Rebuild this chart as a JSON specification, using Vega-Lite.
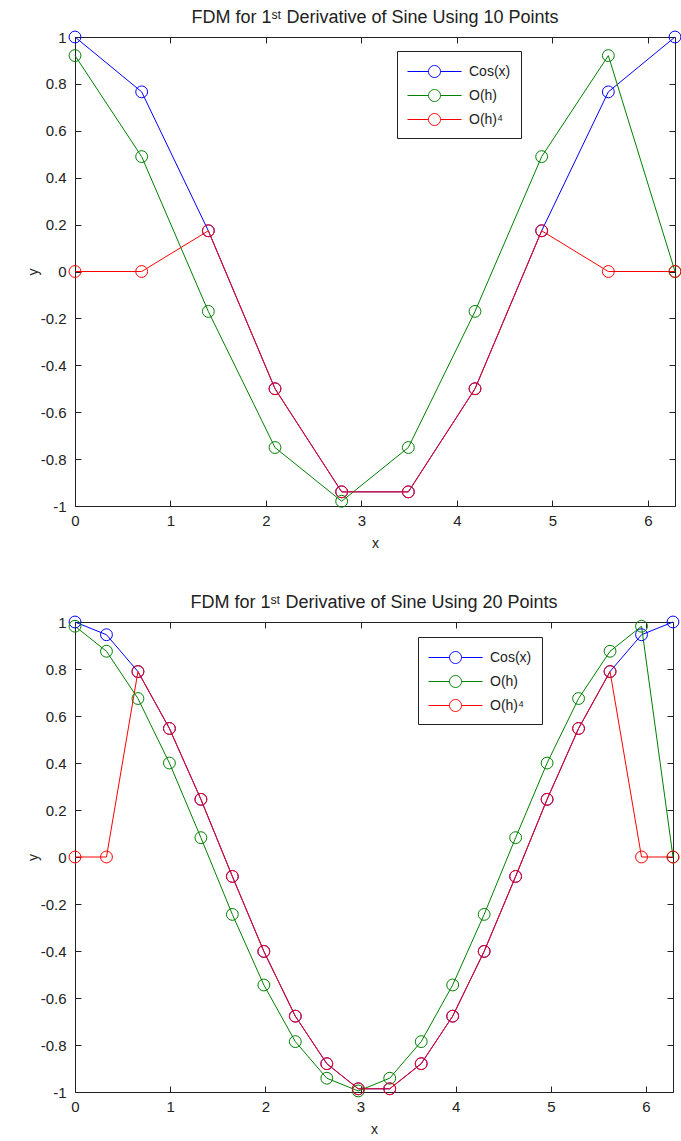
{
  "$schema": "https://vega.github.io/schema/vega-lite/v6.json",
  "background": "white",
  "padding": {"left": 26, "top": 9, "right": 6, "bottom": 3},
  "spacing": 44,
  "config": {
    "font": "Liberation Sans",
    "view": {"stroke": null},
    "axis": {"grid": false, "labelFont": "Liberation Sans", "labelFontSize": 15, "labelColor": "#222", "labelFlush": false, "tickColor": "#222", "domainColor": "#222", "tickSize": -6, "titleFont": "Liberation Sans", "titleFontSize": 14, "titleFontWeight": "normal", "titleColor": "#222"},
    "title": {"font": "Liberation Sans", "fontSize": 18, "fontWeight": "normal", "color": "#222", "offset": 2},
    "legend": {"labelFont": "Liberation Sans", "labelFontSize": 14, "labelColor": "#222"}
  },
  "datasets": {
    "p10": [
      {"x": 0, "y": 1, "s": "Cos(x)"},
      {"x": 0.6981, "y": 0.766, "s": "Cos(x)"},
      {"x": 1.3963, "y": 0.1736, "s": "Cos(x)"},
      {"x": 2.0944, "y": -0.5, "s": "Cos(x)"},
      {"x": 2.7925, "y": -0.9397, "s": "Cos(x)"},
      {"x": 3.4907, "y": -0.9397, "s": "Cos(x)"},
      {"x": 4.1888, "y": -0.5, "s": "Cos(x)"},
      {"x": 4.8869, "y": 0.1736, "s": "Cos(x)"},
      {"x": 5.5851, "y": 0.766, "s": "Cos(x)"},
      {"x": 6.2832, "y": 1, "s": "Cos(x)"},
      {"x": 0, "y": 0.9207, "s": "O(h)"},
      {"x": 0.6981, "y": 0.4899, "s": "O(h)"},
      {"x": 1.3963, "y": -0.1702, "s": "O(h)"},
      {"x": 2.0944, "y": -0.7506, "s": "O(h)"},
      {"x": 2.7925, "y": -0.9798, "s": "O(h)"},
      {"x": 3.4907, "y": -0.7506, "s": "O(h)"},
      {"x": 4.1888, "y": -0.1702, "s": "O(h)"},
      {"x": 4.8869, "y": 0.4899, "s": "O(h)"},
      {"x": 5.5851, "y": 0.9207, "s": "O(h)"},
      {"x": 6.2832, "y": 0, "s": "O(h)"},
      {"x": 0, "y": 0, "s": "O(h)⁴"},
      {"x": 0.6981, "y": 0, "s": "O(h)⁴"},
      {"x": 1.3963, "y": 0.1736, "s": "O(h)⁴"},
      {"x": 2.0944, "y": -0.5, "s": "O(h)⁴"},
      {"x": 2.7925, "y": -0.9397, "s": "O(h)⁴"},
      {"x": 3.4907, "y": -0.9397, "s": "O(h)⁴"},
      {"x": 4.1888, "y": -0.5, "s": "O(h)⁴"},
      {"x": 4.8869, "y": 0.1736, "s": "O(h)⁴"},
      {"x": 5.5851, "y": 0, "s": "O(h)⁴"},
      {"x": 6.2832, "y": 0, "s": "O(h)⁴"}
    ],
    "p20": [
      {"x": 0, "y": 1, "s": "Cos(x)"},
      {"x": 0.3307, "y": 0.9458, "s": "Cos(x)"},
      {"x": 0.6614, "y": 0.7891, "s": "Cos(x)"},
      {"x": 0.9921, "y": 0.5469, "s": "Cos(x)"},
      {"x": 1.3228, "y": 0.2455, "s": "Cos(x)"},
      {"x": 1.6535, "y": -0.0826, "s": "Cos(x)"},
      {"x": 1.9842, "y": -0.4017, "s": "Cos(x)"},
      {"x": 2.3149, "y": -0.6773, "s": "Cos(x)"},
      {"x": 2.6456, "y": -0.8795, "s": "Cos(x)"},
      {"x": 2.9762, "y": -0.9864, "s": "Cos(x)"},
      {"x": 3.3069, "y": -0.9864, "s": "Cos(x)"},
      {"x": 3.6376, "y": -0.8795, "s": "Cos(x)"},
      {"x": 3.9683, "y": -0.6773, "s": "Cos(x)"},
      {"x": 4.299, "y": -0.4017, "s": "Cos(x)"},
      {"x": 4.6297, "y": -0.0826, "s": "Cos(x)"},
      {"x": 4.9604, "y": 0.2455, "s": "Cos(x)"},
      {"x": 5.2911, "y": 0.5469, "s": "Cos(x)"},
      {"x": 5.6218, "y": 0.7891, "s": "Cos(x)"},
      {"x": 5.9525, "y": 0.9458, "s": "Cos(x)"},
      {"x": 6.2832, "y": 1, "s": "Cos(x)"},
      {"x": 0, "y": 0.9819, "s": "O(h)"},
      {"x": 0.3307, "y": 0.8755, "s": "O(h)"},
      {"x": 0.6614, "y": 0.6744, "s": "O(h)"},
      {"x": 0.9921, "y": 0.3998, "s": "O(h)"},
      {"x": 1.3228, "y": 0.0823, "s": "O(h)"},
      {"x": 1.6535, "y": -0.2443, "s": "O(h)"},
      {"x": 1.9842, "y": -0.5446, "s": "O(h)"},
      {"x": 2.3149, "y": -0.7856, "s": "O(h)"},
      {"x": 2.6456, "y": -0.9413, "s": "O(h)"},
      {"x": 2.9762, "y": -0.9955, "s": "O(h)"},
      {"x": 3.3069, "y": -0.9413, "s": "O(h)"},
      {"x": 3.6376, "y": -0.7856, "s": "O(h)"},
      {"x": 3.9683, "y": -0.5446, "s": "O(h)"},
      {"x": 4.299, "y": -0.2443, "s": "O(h)"},
      {"x": 4.6297, "y": 0.0823, "s": "O(h)"},
      {"x": 4.9604, "y": 0.3998, "s": "O(h)"},
      {"x": 5.2911, "y": 0.6744, "s": "O(h)"},
      {"x": 5.6218, "y": 0.8755, "s": "O(h)"},
      {"x": 5.9525, "y": 0.9819, "s": "O(h)"},
      {"x": 6.2832, "y": 0, "s": "O(h)"},
      {"x": 0, "y": 0, "s": "O(h)⁴"},
      {"x": 0.3307, "y": 0, "s": "O(h)⁴"},
      {"x": 0.6614, "y": 0.7891, "s": "O(h)⁴"},
      {"x": 0.9921, "y": 0.5469, "s": "O(h)⁴"},
      {"x": 1.3228, "y": 0.2455, "s": "O(h)⁴"},
      {"x": 1.6535, "y": -0.0826, "s": "O(h)⁴"},
      {"x": 1.9842, "y": -0.4017, "s": "O(h)⁴"},
      {"x": 2.3149, "y": -0.6773, "s": "O(h)⁴"},
      {"x": 2.6456, "y": -0.8795, "s": "O(h)⁴"},
      {"x": 2.9762, "y": -0.9864, "s": "O(h)⁴"},
      {"x": 3.3069, "y": -0.9864, "s": "O(h)⁴"},
      {"x": 3.6376, "y": -0.8795, "s": "O(h)⁴"},
      {"x": 3.9683, "y": -0.6773, "s": "O(h)⁴"},
      {"x": 4.299, "y": -0.4017, "s": "O(h)⁴"},
      {"x": 4.6297, "y": -0.0826, "s": "O(h)⁴"},
      {"x": 4.9604, "y": 0.2455, "s": "O(h)⁴"},
      {"x": 5.2911, "y": 0.5469, "s": "O(h)⁴"},
      {"x": 5.6218, "y": 0.7891, "s": "O(h)⁴"},
      {"x": 5.9525, "y": 0, "s": "O(h)⁴"},
      {"x": 6.2832, "y": 0, "s": "O(h)⁴"}
    ]
  },
  "resolve": {"scale": {"color": "independent"}},
  "vconcat": [
    {
      "title": "FDM for 1ˢᵗ Derivative of Sine Using 10 Points",
      "width": 600,
      "height": 469,
      "data": {"name": "p10"},
      "resolve": {"axis": {"x": "independent", "y": "independent"}},
      "layer": [
        {
          "mark": {"type": "line", "strokeWidth": 1},
          "encoding": {
            "x": {"field": "x", "type": "quantitative", "scale": {"domain": [0, 6.2832], "nice": false, "zero": false}, "axis": {"values": [0, 1, 2, 3, 4, 5, 6], "title": "x", "labelPadding": 13, "titlePadding": 8}},
            "y": {"field": "y", "type": "quantitative", "scale": {"domain": [-1, 1], "nice": false}, "axis": {"values": [-1, -0.8, -0.6, -0.4, -0.2, 0, 0.2, 0.4, 0.6, 0.8, 1], "labelExpr": "replace(format(datum.value, '.1~f'), '−', '-')", "title": "y", "labelPadding": 15, "titlePadding": 0}},
            "color": {"field": "s", "type": "nominal", "scale": {"domain": ["Cos(x)", "O(h)", "O(h)⁴"], "range": ["#0000ff", "#008000", "#ff0000"]},
              "legend": {"title": null, "orient": "none", "legendX": 322, "legendY": 14, "strokeColor": "#222", "fillColor": "white", "padding": 10, "symbolType": "M-1,0L1.1,0M2.3,0L4.4,0M1.1,0A0.6,0.6,0,1,0,2.3,0A0.6,0.6,0,1,0,1.1,0", "symbolSize": 400, "symbolStrokeWidth": 1, "symbolFillColor": "transparent", "labelOffset": 41, "rowPadding": 5, "labelFontSize": 14,
                "encode": {"symbols": {"update": {"stroke": {"signal": "datum.value === 'Cos(x)' ? '#0000ff' : datum.value === 'O(h)' ? '#008000' : '#ff0000'"}, "fill": {"value": "transparent"}}}}}}
          }
        },
        {
          "mark": {"type": "point", "filled": false, "size": 140, "strokeWidth": 1, "opacity": 1},
          "encoding": {
            "x": {"field": "x", "type": "quantitative", "axis": {"orient": "top", "values": [0, 1, 2, 3, 4, 5, 6], "labels": false, "title": null}},
            "y": {"field": "y", "type": "quantitative", "axis": {"orient": "right", "values": [-1, -0.8, -0.6, -0.4, -0.2, 0, 0.2, 0.4, 0.6, 0.8, 1], "labels": false, "title": null}},
            "color": {"field": "s", "type": "nominal"}
          }
        }
      ]
    },
    {
      "title": "FDM for 1ˢᵗ Derivative of Sine Using 20 Points",
      "width": 598,
      "height": 470,
      "data": {"name": "p20"},
      "resolve": {"axis": {"x": "independent", "y": "independent"}},
      "layer": [
        {
          "mark": {"type": "line", "strokeWidth": 1},
          "encoding": {
            "x": {"field": "x", "type": "quantitative", "scale": {"domain": [0, 6.2832], "nice": false, "zero": false}, "axis": {"values": [0, 1, 2, 3, 4, 5, 6], "title": "x", "labelPadding": 13, "titlePadding": 8}},
            "y": {"field": "y", "type": "quantitative", "scale": {"domain": [-1, 1], "nice": false}, "axis": {"values": [-1, -0.8, -0.6, -0.4, -0.2, 0, 0.2, 0.4, 0.6, 0.8, 1], "labelExpr": "replace(format(datum.value, '.1~f'), '−', '-')", "title": "y", "labelPadding": 15, "titlePadding": 0}},
            "color": {"field": "s", "type": "nominal", "scale": {"domain": ["Cos(x)", "O(h)", "O(h)⁴"], "range": ["#0000ff", "#008000", "#ff0000"]},
              "legend": {"title": null, "orient": "none", "legendX": 343, "legendY": 15, "strokeColor": "#222", "fillColor": "white", "padding": 10, "symbolType": "M-1,0L1.1,0M2.3,0L4.4,0M1.1,0A0.6,0.6,0,1,0,2.3,0A0.6,0.6,0,1,0,1.1,0", "symbolSize": 400, "symbolStrokeWidth": 1, "symbolFillColor": "transparent", "labelOffset": 41, "rowPadding": 5, "labelFontSize": 14,
                "encode": {"symbols": {"update": {"stroke": {"signal": "datum.value === 'Cos(x)' ? '#0000ff' : datum.value === 'O(h)' ? '#008000' : '#ff0000'"}, "fill": {"value": "transparent"}}}}}}
          }
        },
        {
          "mark": {"type": "point", "filled": false, "size": 140, "strokeWidth": 1, "opacity": 1},
          "encoding": {
            "x": {"field": "x", "type": "quantitative", "axis": {"orient": "top", "values": [0, 1, 2, 3, 4, 5, 6], "labels": false, "title": null}},
            "y": {"field": "y", "type": "quantitative", "axis": {"orient": "right", "values": [-1, -0.8, -0.6, -0.4, -0.2, 0, 0.2, 0.4, 0.6, 0.8, 1], "labels": false, "title": null}},
            "color": {"field": "s", "type": "nominal"}
          }
        }
      ]
    }
  ]
}
